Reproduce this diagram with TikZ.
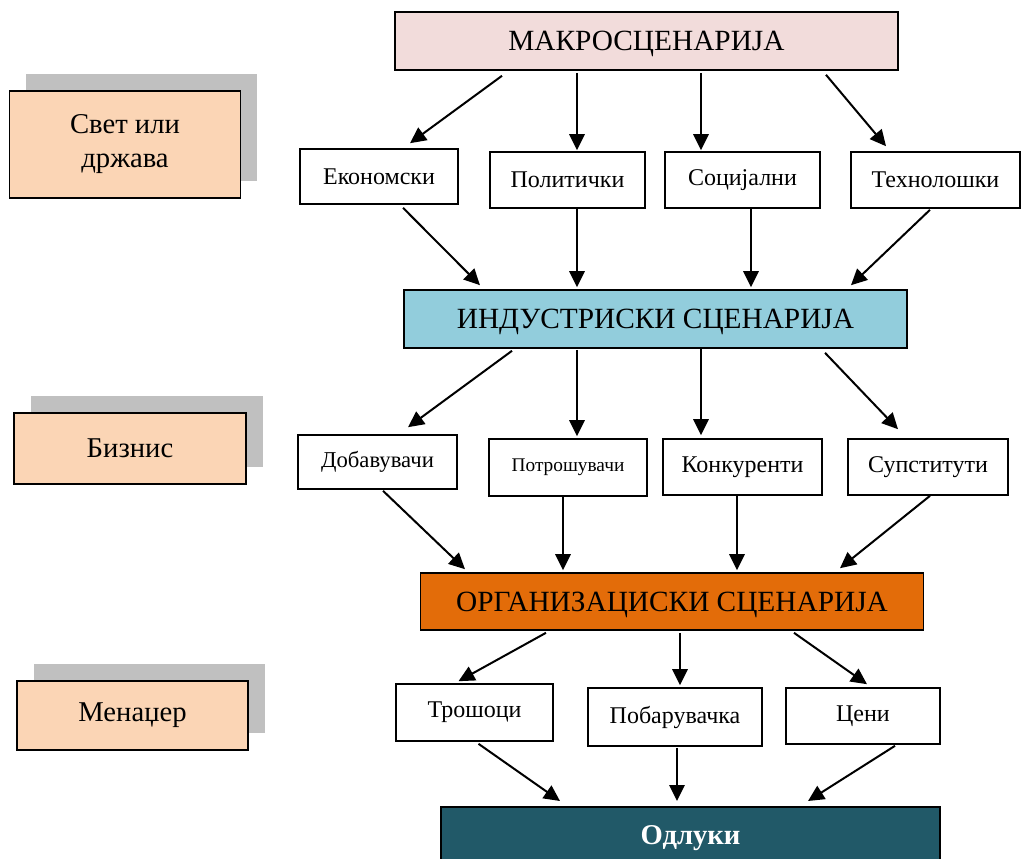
\documentclass[tikz,border=0pt]{standalone}
\usepackage{fontspec}
\setmainfont{Liberation Serif}
\usetikzlibrary{positioning, calc, arrows.meta, shadows}
\definecolor{makrofill}{HTML}{F2DCDB}
\definecolor{indfill}{HTML}{92CDDC}
\definecolor{orgfill}{HTML}{E36C09}
\definecolor{odlfill}{HTML}{215968}
\definecolor{sidefill}{HTML}{FBD5B5}
\definecolor{shadowgray}{HTML}{C0C0C0}
\tikzset{
	box/.style={draw, line width=1.2pt, fill=white, inner sep=0pt, font=\fontsize{18}{20}\selectfont},
	bigbox/.style={box, minimum width=377pt, minimum height=43.5pt, text depth=0pt, font=\fontsize{22}{24}\selectfont},
	side/.style={box, fill=sidefill, minimum width=173pt, font=\fontsize{21.5}{25.5}\selectfont, align=center,
		drop shadow={shadow xshift=12.5pt, shadow yshift=12.75pt, fill=shadowgray, opacity=1}},
	arr/.style={line width=1.5pt, -{Triangle[length=12pt, width=11.5pt]}}
}

\begin{document}
\begin{tikzpicture}[x=0.75pt, y=-0.75pt]
		\useasboundingbox (0, 0) rectangle (1022, 858);
		\node[side, minimum height=80pt] (svet) at (125, 144.5) {Свет или\\држава};
		\node[side, minimum height=53pt, minimum width=174pt] (biz) at (130, 448.5) {Бизнис};
		\node[side, minimum height=52pt] (men) at (132.5, 715.5) {Менаџер};
		\node[bigbox, fill=makrofill] (makro) at (646.5, 41) {МАКРОСЦЕНАРИЈА};
		\node[box, minimum width=118.5pt, minimum height=41.25pt] (ekon) at (379, 176.5) {Економски};
		\node[box, minimum width=116.25pt, minimum height=42pt] (pol) at (567.5, 180) {Политички};
		\node[box, minimum width=116.25pt, minimum height=42pt] (soc) at (742.5, 180) {Социјални};
		\node[box, minimum width=126.75pt, minimum height=42pt] (teh) at (935.5, 180) {Технолошки};
		\node[bigbox, fill=indfill] (ind) at (655.5, 319) {ИНДУСТРИСКИ СЦЕНАРИЈА};
		\node[box, minimum width=119.25pt, minimum height=40.5pt, font=\fontsize{17}{20}\selectfont] (dob) at (377.5, 462) {Добавувачи};
		\node[box, minimum width=118.5pt, minimum height=42.75pt, font=\fontsize{14.5}{17}\selectfont] (potr) at (568, 467.5) {Потрошувачи};
		\node[box, minimum width=119.25pt, minimum height=42pt] (konk) at (742.5, 467) {Конкуренти};
		\node[box, minimum width=120pt, minimum height=42pt] (sup) at (928, 467) {Супститути};
		\node[bigbox, fill=orgfill, minimum height=42.75pt] (org) at (672, 601.5) {ОРГАНИЗАЦИСКИ СЦЕНАРИЈА};
		\node[box, minimum width=117.75pt, minimum height=42.75pt] (trosh) at (474.5, 712.5) {Трошоци};
		\node[box, minimum width=130.5pt, minimum height=43.5pt] (pob) at (675, 717) {Побарувачка};
		\node[box, minimum width=115.5pt, minimum height=42pt] (ceni) at (863, 716) {Цени};
		\node[bigbox, fill=odlfill, minimum width=374pt, minimum height=50pt, anchor=north, text=white, font=\fontsize{21.5}{24}\selectfont\bfseries] (odl) at (690.5, 806) {\raisebox{8pt}{Одлуки}};
		\draw[arr] ($(makro.south)+(-144.5, 5)$) -- ($(ekon.north)+(31, -5)$);
		\draw[arr] ($(makro.south)+(-69.5, 2)$) -- ($(pol.north)+(9.5, -1)$);
		\draw[arr] ($(makro.south)+(54.5, 2)$) -- ($(soc.north)+(-41.5, -1)$);
		\draw[arr] ($(makro.south)+(179.5, 4)$) -- ($(teh.north)+(-49.5, -5)$);
		\draw[arr] ($(ekon.south)+(24, 3)$) -- ($(ind.north)+(-175.5, -4)$);
		\draw[arr] ($(pol.south)+(9.5, 0)$) -- ($(ind.north)+(-78.5, -2)$);
		\draw[arr] ($(soc.south)+(8.5, 0)$) -- ($(ind.north)+(95.5, -2)$);
		\draw[arr] ($(teh.south)+(-5.5, 1)$) -- ($(ind.north)+(195.5, -4)$);
		\draw[arr] ($(ind.south)+(-143.5, 2)$) -- ($(dob.north)+(30.5, -7)$);
		\draw[arr] ($(ind.south)+(-78.5, 1)$) -- ($(potr.north)+(9, -2)$);
		\draw[arr] ($(ind.south)+(45.5, 0)$) -- ($(konk.north)+(-41.5, -3)$);
		\draw[arr] ($(ind.south)+(169.5, 4)$) -- ($(sup.north)+(-30, -9)$);
		\draw[arr] ($(dob.south)+(5.5, 1)$) -- ($(org.north)+(-207, -3)$);
		\draw[arr] ($(potr.south)+(-5, 0)$) -- ($(org.north)+(-109, -2)$);
		\draw[arr] ($(konk.south)+(-5.5, 0)$) -- ($(org.north)+(65, -2)$);
		\draw[arr] ($(sup.south)+(2, 0)$) -- ($(org.north)+(168, -4)$);
		\draw[arr] ($(org.south)+(-126, 2)$) -- ($(trosh.north)+(-16, -2)$);
		\draw[arr] ($(org.south)+(8, 2)$) -- ($(pob.north)+(5, -2)$);
		\draw[arr] ($(org.south)+(122, 2)$) -- ($(ceni.north)+(4, -3)$);
		\draw[arr] ($(trosh.south)+(4, 2)$) -- ($(odl.north)+(-130.5, -5)$);
		\draw[arr] ($(pob.south)+(2, 1)$) -- ($(odl.north)+(-13.5, -5)$);
		\draw[arr] ($(ceni.south)+(32, 1)$) -- ($(odl.north)+(117.5, -5)$);
	\end{tikzpicture}
\end{document}
